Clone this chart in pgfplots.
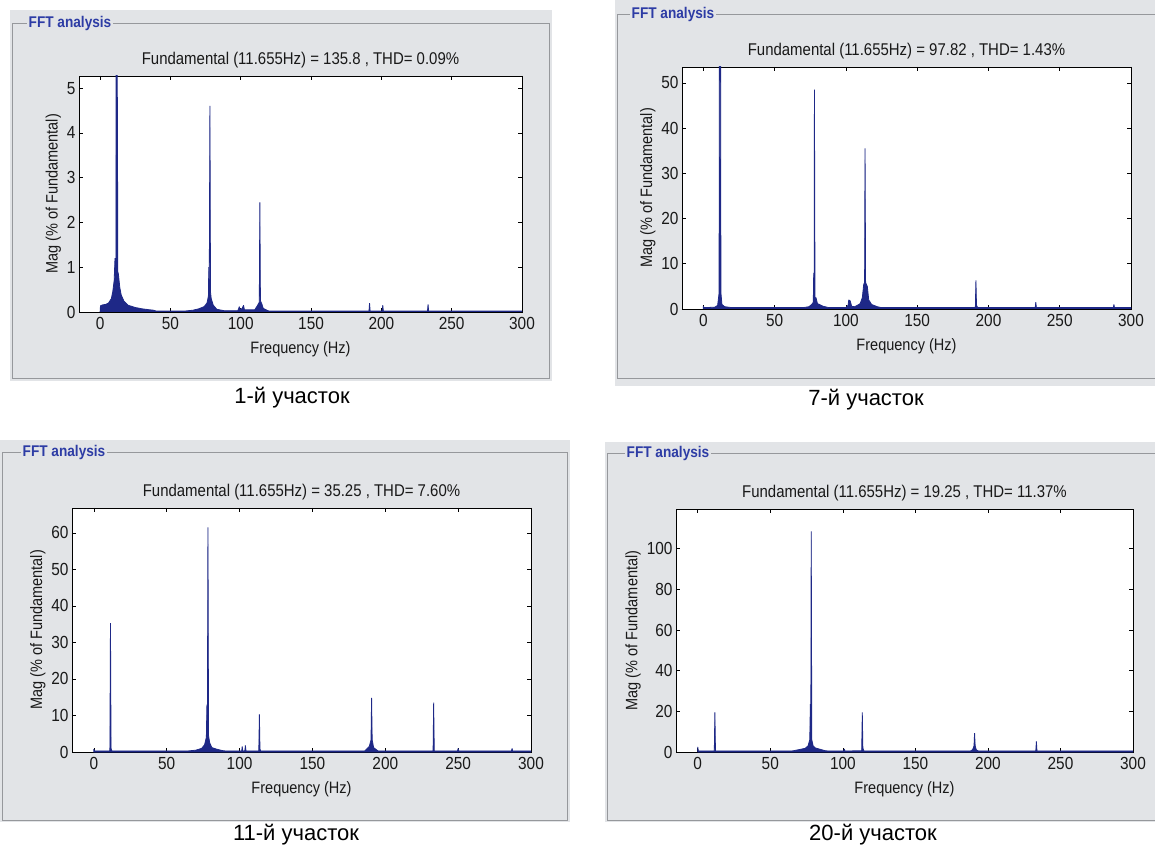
\documentclass[border=0pt]{standalone}
\usepackage{pgfplots}
\pgfplotsset{compat=1.18}
\usepackage{pgfplotstable}
\usepackage{fontspec}
\setmainfont{Liberation Sans}
\newfontfamily\mfont[FakeStretch=0.88]{Liberation Sans}
\definecolor{panelgrey}{RGB}{226,228,231}
\definecolor{bordergrey}{RGB}{150,152,156}
\definecolor{titleblue}{RGB}{45,60,165}
\definecolor{navy}{RGB}{30,40,135}

\pgfplotstableread{
x y
0 0
0.3 0.14
2 0.16
4 0.17
6 0.2
8 0.3
9 0.45
10 0.7
10.6 1.2
10.9 1.1
11.3 1.0
11.6 100
11.9 100
12.1 1.0
12.3 4.8
12.6 0.9
13 0.85
14 0.55
15 0.38
17 0.24
20 0.15
25 0.1
30 0.07
35 0.05
38 0.04
40 0.02
60 0.02
66 0.04
70 0.07
74 0.12
76 0.2
77.0 0.35
77.3 1.0
77.6 0.4
78.1 4.6
78.5 0.45
79 0.3
80.5 0.15
83 0.06
88 0.03
98 0.03
99 0.12
99.6 0.05
101 0.08
102 0.15
102.6 0.05
110 0.05
112 0.15
113.2 0.22
113.6 2.45
114.0 0.25
115 0.18
116 0.08
120 0.02
191.2 0.02
191.6 0.2
192.0 0.02
200.6 0.02
201 0.15
201.4 0.02
232.8 0.02
233.2 0.17
233.6 0.02
300 0.02
300 0
}\dataA

\pgfplotstableread{
x y
0 0
0 0.6
0.4 0.3
8 0.4
10 0.8
11.0 3.5
11.4 100
11.9 100
12.3 3.6
13 1.0
15 0.5
20 0.3
70 0.3
74 0.5
76 1.0
77.1 1.5
77.4 8
77.7 1.5
77.9 48.5
78.3 2.5
79 2.5
80 1.2
84 0.6
88 0.3
100 0.3
101.5 0.8
102 2.0
103 1.8
104 0.6
106 0.5
108 0.8
110 1.2
111.5 2.5
112.5 5.5
113.1 5.8
113.4 35.5
113.8 5.8
115 5
116 2
118 1
122 0.5
125 0.3
190.8 0.3
191.2 6.3
191.6 0.8
192.5 0.3
232.8 0.3
233.2 1.5
233.6 0.3
287.6 0.3
288 1.0
288.4 0.3
300 0.3
300 0
}\dataB

\pgfplotstableread{
x y
0 0
0 0.8
0.4 0.3
11.0 0.3
11.4 35.3
11.8 1.0
12.3 0.3
65 0.3
70 0.5
74 1.0
76 2
77.2 4
77.6 13
77.9 4.5
78.3 61.5
78.7 4.5
79.5 2.5
81 1.2
84 0.8
88 0.4
90 0.3
101.5 0.3
101.8 1.5
102.2 0.3
103.6 0.3
104 1.8
104.4 0.3
113.2 0.3
113.6 10.3
114.0 0.8
114.5 0.3
186 0.3
189 1.5
190.2 3.3
190.6 14.8
191.0 3.3
192 1.2
195 0.3
232.8 0.3
233.2 13.5
233.6 0.3
249.6 0.3
250 1.0
250.4 0.3
286.6 0.3
287 1.0
287.4 0.3
300 0.3
300 0
}\dataC

\pgfplotstableread{
x y
0 0
0 2.5
0.4 0.5
11.4 0.5
11.8 19.5
12.2 0.5
65 0.5
70 1.2
74 1.8
76 3
77.2 6
77.6 23.5
77.9 8
78.2 108.5
78.6 6
79.5 3
81 2
85 1.2
88 0.6
90 0.5
100.6 0.5
101 1.5
101.4 0.5
113.0 0.6
113.4 19.5
113.8 2
114.5 0.5
188 0.5
189.5 1.2
190.4 3
190.8 9.3
191.2 3
192 1
193.5 0.5
233.0 0.5
233.4 5.2
233.8 0.5
300 0.5
300 0
}\dataD

\pgfplotsset{
  fftaxis/.style={
    scale only axis,
    anchor=south west,
    xmin=-15, xmax=300, ymin=0,
    xtick={0,50,...,300},
    tick align=inside,
    xtick pos=both, ytick pos=both,
    major tick length=4pt,
    every tick/.style={black, line width=0.6pt},
    axis line style={black, line width=0.8pt},
    axis background/.style={fill=white},
    /pgf/number format/assume math mode=true,
    /pgf/number format/1000 sep={},
    tick label style={font=\mfont\fontsize{17.5}{19}\selectfont, text=black!90},
    xticklabel style={yshift=-2pt},
    label style={font=\mfont\fontsize{16.5}{18}\selectfont, text=black!90},
    xlabel={Frequency (Hz)},
    ylabel={Mag (\% of Fundamental)},
    xlabel style={yshift=-5pt},
    ylabel style={yshift=-1pt},
    title style={font=\mfont\fontsize{17}{19}\selectfont, text=black!90, at={(0.5,1)}, anchor=center, yshift=10pt},
  },
  spec/.style={fill=navy, draw=navy, line width=0.8pt, line join=bevel},
}

\begin{document}
\begin{tikzpicture}[x=1pt,y=1pt]
\useasboundingbox (0,0) rectangle (1155,847);
\fill[white] (0,0) rectangle (1155,847);
% panel backgrounds
\fill[panelgrey] (10,466) rectangle (552,837);
\fill[panelgrey] (615,461) rectangle (1155,847);
\fill[panelgrey] (0,25) rectangle (570,407);
\fill[panelgrey] (605,25) rectangle (1155,405);
% borders
\draw[bordergrey, line width=0.9pt] (12,469) rectangle (549,824);
\draw[bordergrey, line width=0.9pt] (617,469) rectangle (1170,833);
\draw[bordergrey, line width=0.9pt] (2,27) rectangle (567,395);
\draw[bordergrey, line width=0.9pt] (607,27) rectangle (1170,394);
% panel titles
\node[fill=panelgrey, inner sep=1.5pt, text=titleblue, font=\mfont\bfseries\fontsize{15.5}{17}\selectfont] at (70,824) {FFT analysis};
\node[fill=panelgrey, inner sep=1.5pt, text=titleblue, font=\mfont\bfseries\fontsize{15.5}{17}\selectfont] at (673,833) {FFT analysis};
\node[fill=panelgrey, inner sep=1.5pt, text=titleblue, font=\mfont\bfseries\fontsize{15.5}{17}\selectfont] at (64,395) {FFT analysis};
\node[fill=panelgrey, inner sep=1.5pt, text=titleblue, font=\mfont\bfseries\fontsize{15.5}{17}\selectfont] at (668,394) {FFT analysis};
% captions
\node[font=\fontsize{22}{24}\selectfont] at (292,449) {1-й участок};
\node[font=\fontsize{22}{24}\selectfont] at (866,447) {7-й участок};
\node[font=\fontsize{22}{24}\selectfont] at (296,12) {11-й участок};
\node[font=\fontsize{22}{24}\selectfont] at (873,12) {20-й участок};

\begin{axis}[fftaxis, at={(79pt,535pt)}, width=443pt, height=236pt,
  ymax=5.27, ytick={0,1,...,5},
  title={Fundamental (11.655Hz) = 135.8 , THD= 0.09\%}]
\addplot[spec] table[x=x,y=y] {\dataA} -- cycle;
\end{axis}

\begin{axis}[fftaxis, at={(682pt,538pt)}, width=449pt, height=242pt,
  ymax=53.5, ytick={0,10,...,50},
  title={Fundamental (11.655Hz) = 97.82 , THD= 1.43\%}]
\addplot[spec] table[x=x,y=y] {\dataB} -- cycle;
\end{axis}

\begin{axis}[fftaxis, at={(72pt,95pt)}, width=459pt, height=244pt,
  ymax=66.8, ytick={0,10,...,60},
  title={Fundamental (11.655Hz) = 35.25 , THD= 7.60\%}]
\addplot[spec] table[x=x,y=y] {\dataC} -- cycle;
\end{axis}

\begin{axis}[fftaxis, at={(676pt,95pt)}, width=457pt, height=243pt,
  ymax=119.5, ytick={0,20,...,100},
  title={Fundamental (11.655Hz) = 19.25 , THD= 11.37\%}]
\addplot[spec] table[x=x,y=y] {\dataD} -- cycle;
\end{axis}
\end{tikzpicture}
\end{document}
